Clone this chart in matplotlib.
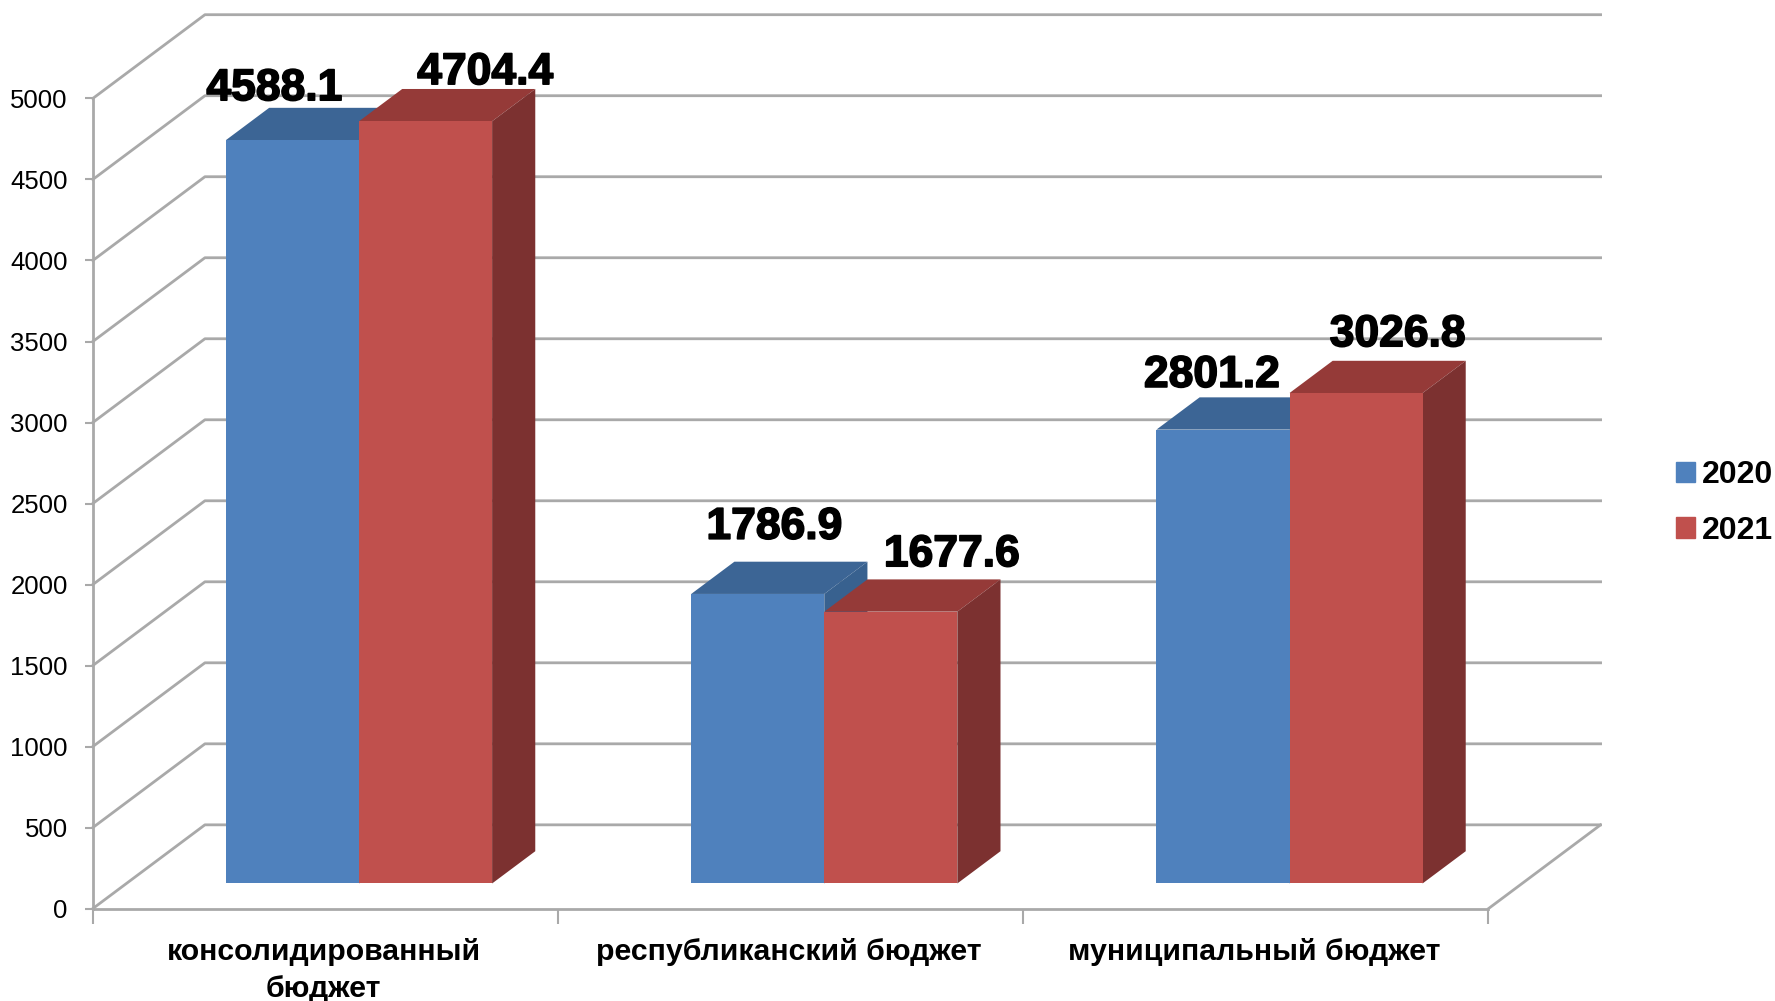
import matplotlib
matplotlib.use("Agg")
import matplotlib.pyplot as plt
import matplotlib.patheffects as pe
from matplotlib.patches import Patch

categories = ["консолидированный\nбюджет", "республиканский бюджет", "муниципальный бюджет"]
years = ["2020", "2021"]
values_2020 = [4588.1, 1786.9, 2801.2]
values_2021 = [4704.4, 1677.6, 3026.8]
yticks = [0, 500, 1000, 1500, 2000, 2500, 3000, 3500, 4000, 4500, 5000]

# offsets of the value labels from the middle of each bar top, in points
offsets_2020 = [(-13, 37), (12, 48), (-8, 39)]
offsets_2021 = [(43, 35), (44, 41), (30, 42)]

# oblique "3d" box, depth given in data units
depth_x = 0.241
depth_y = 517
bar_start = 0.30  # how far back the bars stand on the floor
bar_depth = 0.385
bar_w = 0.286

GRID = "#a9a9a9"
front = ["#4f81bd", "#c0504d"]
top = ["#3c6595", "#953a38"]
side = ["#38618f", "#7c3130"]

fig = plt.figure(figsize=(17.75, 10.01), dpi=100)
ax = fig.add_axes([92.8 / 1775, 92.4 / 1001, 1507.8 / 1775, 893.9 / 1001])
ax.set_xlim(0, 3 + depth_x)
ax.set_ylim(0, 5000 + depth_y)

# walls
for v in yticks:
    ax.plot([0, depth_x, 3 + depth_x], [v, v + depth_y, v + depth_y], color=GRID, lw=2, zorder=1, clip_on=False)
ax.plot([3, 3 + depth_x], [0, depth_y], color=GRID, lw=2, zorder=1)

for s in ["top", "right"]:
    ax.spines[s].set_visible(False)
for s in ["left", "bottom"]:
    ax.spines[s].set_color(GRID)
    ax.spines[s].set_linewidth(2)
ax.spines["left"].set_bounds(0, 5000)
ax.spines["bottom"].set_bounds(0, 3)

ax.set_yticks(yticks)
ax.tick_params(axis="y", length=6, width=1.5, color=GRID, pad=12)
for lab in ax.get_yticklabels():
    lab.set_family("Liberation Sans")
    lab.set_fontsize(18.5)

ax.set_xticks([0, 1, 2, 3])
ax.set_xticklabels([])
ax.set_xticks([0.496, 1.496, 2.496], minor=True)
ax.set_xticklabels(categories, minor=True, fontsize=21.8, fontweight="bold", family="Liberation Sans", linespacing=1.4, va="top")
ax.tick_params(axis="x", which="major", length=11, width=1.5, color=GRID)
ax.tick_params(axis="x", which="minor", length=0, pad=21)

# bars
z = 3
stroke = [pe.withStroke(linewidth=1.2, foreground="black")]
for i, vals in enumerate([values_2020, values_2021]):
    offs = offsets_2020 if i == 0 else offsets_2021
    for c, v in enumerate(vals):
        x0 = c + 0.5 + bar_start * depth_x + (i - 1) * bar_w
        x1 = x0 + bar_w
        base = bar_start * depth_y
        dx = bar_depth * depth_x
        dy = bar_depth * depth_y
        ax.bar(x0, v, bar_w, bottom=base, align="edge", color=front[i], zorder=z + 2)
        ax.fill([x0, x1, x1 + dx, x0 + dx], [base + v, base + v, base + v + dy, base + v + dy], color=top[i], lw=0, zorder=z)
        ax.fill([x1, x1 + dx, x1 + dx, x1], [base, base + dy, base + v + dy, base + v], color=side[i], lw=0, zorder=z + 1)
        ax.annotate(f"{v:.1f}", (x0 + bar_w / 2, base + v), xytext=offs[c], textcoords="offset points",
                    ha="center", va="center", fontsize=32, fontweight="bold", family="Liberation Sans",
                    color="black", zorder=20, path_effects=stroke)
    z += 3

handles = [Patch(color=front[0]), Patch(color=front[1])]
leg = fig.legend(handles, years, loc="center left", bbox_to_anchor=(1676 / 1775, 1 - 503 / 1001), frameon=False,
                 prop={"family": "Liberation Sans", "weight": "bold", "size": 23},
                 handlelength=0.6, handleheight=0.6, handletextpad=0.2, labelspacing=0.8,
                 borderpad=0, borderaxespad=0)

fig.savefig("out.png", dpi=100)
